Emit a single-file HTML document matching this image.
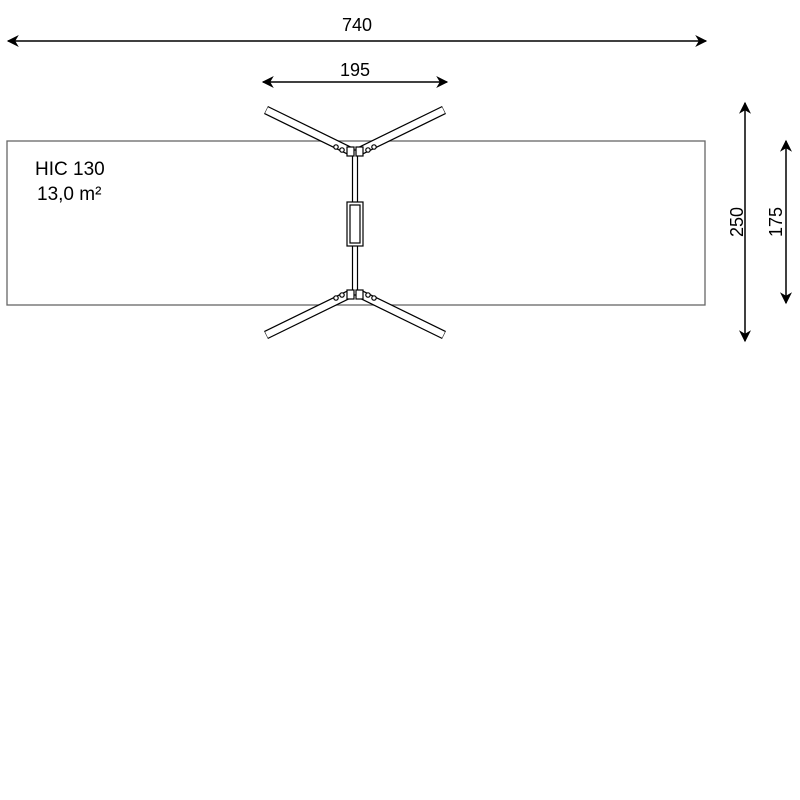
<!DOCTYPE html>
<html><head><style>body{margin:0;background:#fff}svg{display:block}</style></head><body>
<svg width="800" height="800" viewBox="0 0 800 800" xmlns="http://www.w3.org/2000/svg" font-family="Liberation Sans, sans-serif">
<defs><marker id="a" viewBox="0 0 10 10" refX="9" refY="5" markerWidth="16" markerHeight="12" markerUnits="userSpaceOnUse" orient="auto-start-reverse"><path d="M0,0L10,5L0,10L3,5z" fill="#000"/></marker></defs>
<rect x="7" y="141" width="698" height="164" fill="none" stroke="#666" stroke-width="1.3"/>
<g stroke="#000" stroke-width="1.5" marker-start="url(#a)" marker-end="url(#a)">
<line x1="8" y1="41" x2="706" y2="41"/>
<line x1="263" y1="82" x2="447" y2="82"/>
<line x1="745" y1="103" x2="745" y2="341"/>
<line x1="786" y1="141" x2="786" y2="303"/>
</g>
<g font-size="18" fill="#000">
<text x="357" y="31" text-anchor="middle">740</text>
<text x="355" y="76" text-anchor="middle">195</text>
<text x="737" y="222" text-anchor="middle" transform="rotate(-90 737 222)" dy="6">250</text>
<text x="776" y="222" text-anchor="middle" transform="rotate(-90 776 222)" dy="6">175</text>
<text x="35" y="175" font-size="19">HIC 130</text>
<text x="37" y="200" font-size="19">13,0 m²</text>
</g>
<g stroke="#000" stroke-width="9" stroke-linecap="butt">
<line x1="266" y1="110" x2="350" y2="151"/>
<line x1="444" y1="110" x2="360" y2="151"/>
<line x1="266" y1="335" x2="350" y2="294"/>
<line x1="444" y1="335" x2="360" y2="294"/>
</g>
<g stroke="#fff" stroke-width="6.5" stroke-linecap="butt">
<line x1="266.5" y1="110.2" x2="350" y2="151"/>
<line x1="443.5" y1="110.2" x2="360" y2="151"/>
<line x1="266.5" y1="334.8" x2="350" y2="294"/>
<line x1="443.5" y1="334.8" x2="360" y2="294"/>
</g>
<g fill="#fff" stroke="#000" stroke-width="1.2">
<rect x="352.5" y="150" width="5" height="145"/>
<rect x="347" y="147" width="7" height="9"/><rect x="356" y="147" width="7" height="9"/>
<rect x="347" y="290" width="7" height="9"/><rect x="356" y="290" width="7" height="9"/>
<rect x="347" y="202" width="16" height="44"/>
<rect x="350" y="205" width="10" height="38"/>
<circle cx="342" cy="150" r="2.2"/><circle cx="336" cy="147" r="2.2"/>
<circle cx="368" cy="150" r="2.2"/><circle cx="374" cy="147" r="2.2"/>
<circle cx="342" cy="295" r="2.2"/><circle cx="336" cy="298" r="2.2"/>
<circle cx="368" cy="295" r="2.2"/><circle cx="374" cy="298" r="2.2"/>
</g>
</svg>
</body></html>
